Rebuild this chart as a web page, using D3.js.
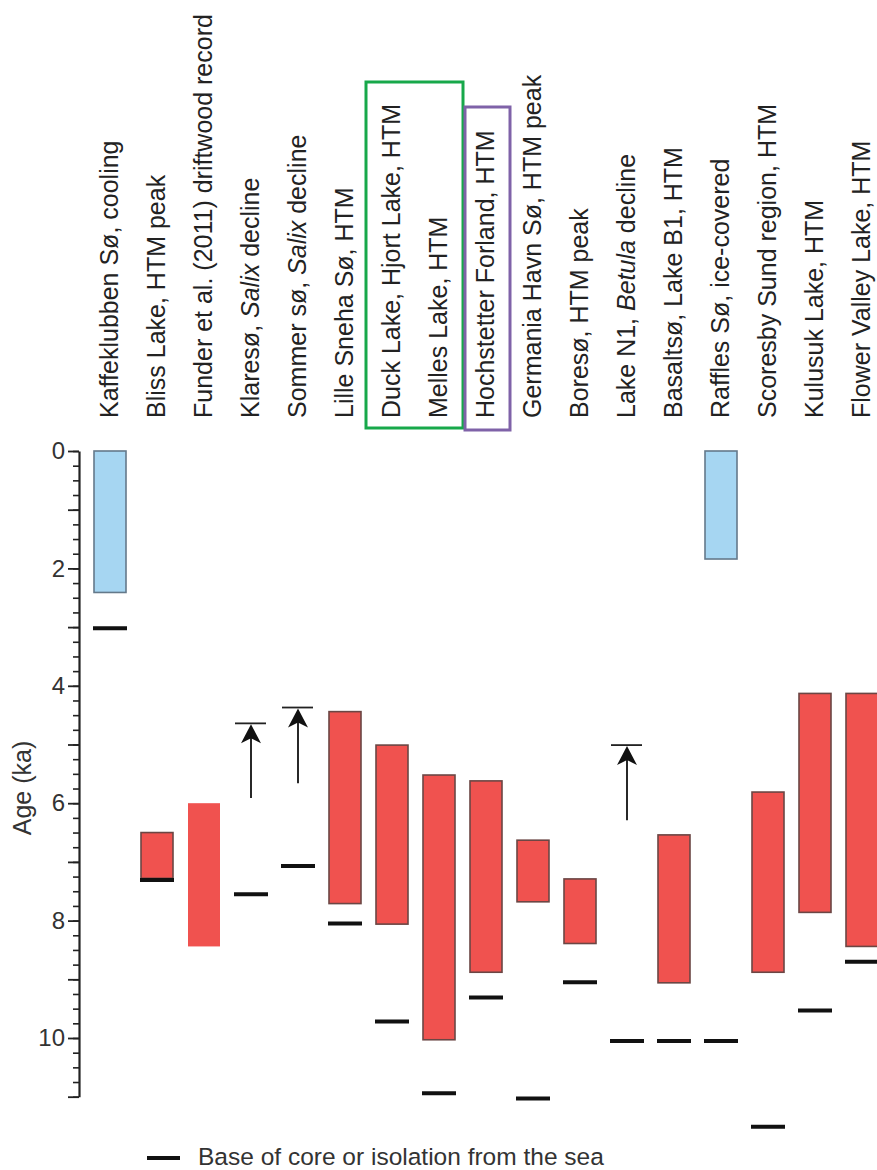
<!DOCTYPE html>
<html>
<head>
<meta charset="utf-8">
<script src="https://cdn.jsdelivr.net/npm/d3@7"></script>
<style>
  body { margin: 0; background: #fff; }
  svg { display: block; font-family: "Liberation Sans", Arial, sans-serif; }
</style>
</head>
<body>
<svg id="chart" width="877" height="1170"></svg>
<script>
"use strict";

// site labels, each a list of [text, italic] pieces
let sites = [
  [["Kaffeklubben Sø, cooling", false]],
  [["Bliss Lake, HTM peak", false]],
  [["Funder et al. (2011) driftwood record", false]],
  [["Klaresø, ", false], ["Salix", true], [" decline", false]],
  [["Sommer sø, ", false], ["Salix", true], [" decline", false]],
  [["Lille Sneha Sø, HTM", false]],
  [["Duck Lake,  Hjort Lake, HTM", false]],
  [["Melles Lake, HTM", false]],
  [["Hochstetter Forland, HTM", false]],
  [["Germania Havn Sø, HTM peak", false]],
  [["Boresø, HTM peak", false]],
  [["Lake N1, ", false], ["Betula", true], [" decline", false]],
  [["Basaltsø, Lake B1, HTM", false]],
  [["Raffles Sø, ice-covered", false]],
  [["Scoresby Sund region, HTM", false]],
  [["Kulusuk Lake, HTM", false]],
  [["Flower Valley Lake, HTM", false]]
]

// bar kind: "cold" (blue), "warm" (red), "warmNoEdge" (red, no outline), "arrow" (decline)
let kinds = ["cold", "warm", "warmNoEdge", "arrow", "arrow", "warm", "warm", "warm", "warm",
             "warm", "warm", "arrow", "warm", "cold", "warm", "warm", "warm"]

// interval start / end in ka (for arrows: cap age / tail age)
let startKa = [0, 6.5, 6.0, 4.64, 4.37, 4.44, 5.01, 5.52, 5.62, 6.63, 7.29, 5.01, 6.54, 0, 5.81, 4.13, 4.13]
let endKa   = [2.41, 7.28, 8.44, 5.91, 5.66, 7.71, 8.06, 10.03, 8.88, 7.68, 8.39, 6.29, 9.06, 1.84, 8.88, 7.86, 8.44]

// base of core or isolation from the sea, ka (null = none)
let baseKa = [3.02, 7.31, null, 7.55, 7.07, 8.05, 9.72, 10.94, 9.31, 11.03, 9.05, 10.05, 10.05, 10.05, 11.51, 9.53, 8.70]

let majorTicks = [0, 1, 2, 3, 4, 5, 6, 7, 8, 9, 10, 11]
let labelTicks = [0, 2, 4, 6, 8, 10]

const svg = d3.select("#chart")

const x = d3.scalePoint()
    .domain(d3.range(sites.length))
    .range([110, 862])

const y = d3.scaleLinear()
    .domain([0, 11])
    .range([451, 1096.7])

const barW = 32
const red = "#f0524f"

// axis: minor ticks every 0.25 ka, major every 1 ka
let minorTicks = d3.range(0, 11.001, 0.25)
svg.append("g")
    .attr("transform", "translate(79,0)")
    .call(d3.axisLeft(y).tickValues(minorTicks).tickSize(6).tickSizeOuter(0).tickFormat(""))
    .call(g => g.selectAll("line").attr("stroke", "#222").attr("stroke-width", 1.6))
    .call(g => g.select(".domain").attr("stroke", "#222").attr("stroke-width", 2.2))

svg.append("g")
    .attr("transform", "translate(79,0)")
    .attr("font-size", 24)
    .attr("font-family", "Liberation Sans, Arial, sans-serif")
    .call(d3.axisLeft(y).tickValues(majorTicks).tickSize(11).tickSizeOuter(0)
      .tickFormat(d => labelTicks.includes(d) ? d : ""))
    .call(g => g.select(".domain").remove())
    .call(g => g.selectAll("line").attr("stroke", "#222").attr("stroke-width", 1.8))
    .call(g => g.selectAll("text")
      .attr("font-size", 24)
      .attr("fill", "#333")
      .attr("x", -14))

svg.append("text")
    .attr("transform", "translate(31,788) rotate(-90)")
    .attr("text-anchor", "middle")
    .attr("font-size", 25)
    .attr("fill", "#333")
    .text("Age (ka)")

// column labels
let labels = svg.append("g")
sites.forEach((pieces, i) => {
  let t = labels.append("text")
      .attr("transform", "translate(" + (x(i) + 8) + ",418) rotate(-90)")
      .attr("font-size", 25)
      .attr("fill", "#222")
  pieces.forEach(p => {
    t.append("tspan")
      .attr("font-style", p[1] ? "italic" : "normal")
      .text(p[0])
  })
})

// highlight boxes round labels
svg.append("rect")
    .attr("x", x(6) - 26).attr("y", 82)
    .attr("width", x(7) - x(6) + 50).attr("height", 346)
    .attr("fill", "none").attr("stroke", "#17a84a").attr("stroke-width", 3)
svg.append("rect")
    .attr("x", x(8) - 21).attr("y", 107)
    .attr("width", 45).attr("height", 323)
    .attr("fill", "none").attr("stroke", "#7f62a8").attr("stroke-width", 3)

// interval bars
let idx = d3.range(sites.length)
svg.append("g").selectAll("rect")
  .data(idx.filter(i => kinds[i] !== "arrow"))
  .join("rect")
    .attr("x", i => x(i) - barW / 2)
    .attr("y", i => y(startKa[i]))
    .attr("width", barW)
    .attr("height", i => y(endKa[i]) - y(startKa[i]))
    .attr("fill", i => kinds[i] === "cold" ? "#a6d6f2" : red)
    .attr("stroke", i => kinds[i] === "warmNoEdge" ? "none" : (kinds[i] === "cold" ? "#64798a" : "#6b4644"))
    .attr("stroke-width", 1.6)

// decline arrows
let arrows = svg.append("g").selectAll("g")
  .data(idx.filter(i => kinds[i] === "arrow"))
  .join("g")
arrows.append("line")
    .attr("x1", i => x(i)).attr("x2", i => x(i))
    .attr("y1", i => y(startKa[i]) + 10).attr("y2", i => y(endKa[i]))
    .attr("stroke", "#111").attr("stroke-width", 1.8)
arrows.append("line")
    .attr("x1", i => x(i) - 16).attr("x2", i => x(i) + 15)
    .attr("y1", i => y(startKa[i])).attr("y2", i => y(startKa[i]))
    .attr("stroke", "#222").attr("stroke-width", 1.8)
arrows.append("path")
    .attr("d", i => {
      let cx = x(i), cy = y(startKa[i]) + 1
      return "M" + cx + "," + cy + "L" + (cx - 10) + "," + (cy + 19) + "L" + cx + "," + (cy + 14) +
             "L" + (cx + 10) + "," + (cy + 19) + "Z"
    })
    .attr("fill", "#111")

// base of core markers
svg.append("g").selectAll("line")
  .data(idx.filter(i => baseKa[i] !== null))
  .join("line")
    .attr("x1", i => x(i) - 17).attr("x2", i => x(i) + 17)
    .attr("y1", i => y(baseKa[i])).attr("y2", i => y(baseKa[i]))
    .attr("stroke", "#111").attr("stroke-width", 4)

// legend
svg.append("line")
    .attr("x1", 147).attr("x2", 180).attr("y1", 1158).attr("y2", 1158)
    .attr("stroke", "#111").attr("stroke-width", 4)
svg.append("text")
    .attr("x", 198).attr("y", 1165)
    .attr("font-size", 24.5)
    .attr("fill", "#333")
    .text("Base of core or isolation from the sea")
</script>
</body>
</html>
